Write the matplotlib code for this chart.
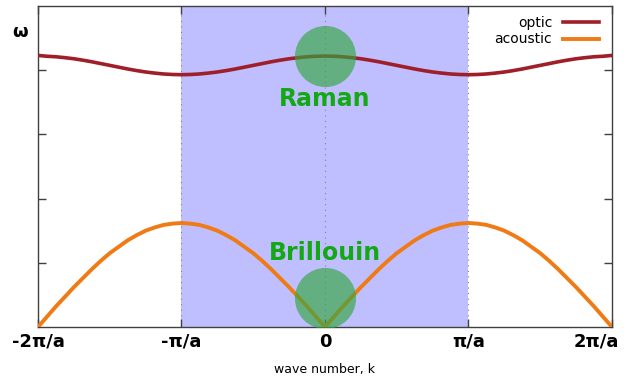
import numpy as np
import matplotlib
matplotlib.use("Agg")
from matplotlib import pyplot as plt
from matplotlib import transforms

# wave number in units of pi/a, step pi/(16a)
k = [i / 16 for i in range(-32, 33)]

# values for k = 0 .. 2pi/a (curves are symmetric)
acoustic_half = [0.0, 0.16, 0.32, 0.47, 0.62, 0.76, 0.90, 1.03, 1.15,
                 1.25, 1.35, 1.43, 1.50, 1.55, 1.59, 1.61, 1.62,
                 1.61, 1.59, 1.55, 1.50, 1.43, 1.35, 1.25, 1.15,
                 1.03, 0.90, 0.76, 0.62, 0.47, 0.32, 0.16, 0.0]
acoustic = acoustic_half[::-1][:-1] + acoustic_half

optic_half = [4.220, 4.217, 4.209, 4.195, 4.178, 4.156, 4.131, 4.103, 4.075,
              4.047, 4.019, 3.994, 3.972, 3.955, 3.941, 3.933, 3.930,
              3.933, 3.941, 3.955, 3.972, 3.994, 4.019, 4.047, 4.075,
              4.103, 4.131, 4.156, 4.178, 4.195, 4.209, 4.217, 4.230]
optic = optic_half[::-1][:-1] + optic_half

xticks = [-2, -1, 0, 1, 2]
xticklabels = ["-2π/a", "-π/a", "0", "π/a", "2π/a"]
yticks = [1, 2, 3, 4]

zone = (-1, 1)
raman_spot = (0, 4.22)
brillouin_spot = (0, 0.45)

fig = plt.figure(figsize=(6.26, 3.79), dpi=100)
ax = fig.add_axes([0.0607, 0.1372, 0.9169, 0.847])

ax.axvspan(zone[0], zone[1], color="#bfbfff", lw=0, zorder=0)
for xv in [-1, 0, 1]:
    ax.axvline(xv, color="#8080a0", lw=0.8, ls=(0, (1, 4)), zorder=1)

ax.plot(k, optic, color="#a01e2a", lw=2.6, label="optic", zorder=3)
ax.plot(k, acoustic, color="#f07a14", lw=2.8, label="acoustic", zorder=3)

for spot in [raman_spot, brillouin_spot]:
    ax.plot(spot[0], spot[1], "o", ms=44, color="#33a73f", alpha=0.65,
            mec="none", zorder=4)

ax.text(0, 3.55, "Raman", color="#14a814", fontsize=17, fontweight="bold",
        ha="center", va="center", zorder=5)
ax.text(0, 1.15, "Brillouin", color="#14a814", fontsize=17, fontweight="bold",
        ha="center", va="center", zorder=5)

ax.set_xlim(-2, 2)
ax.set_ylim(0, 5)
ax.set_xticks(xticks)
ax.set_xticklabels(xticklabels, fontsize=13, fontweight="bold")
ax.set_yticks(yticks)
ax.set_yticklabels([])
ax.tick_params(direction="in", length=6, width=1, color="#404040",
               top=True, right=True, pad=4)
for s in ax.spines.values():
    s.set_color("#404040")
    s.set_linewidth(1)

# last label pulled in so it fits the figure
last = ax.get_xticklabels()[-1]
last.set_transform(last.get_transform() +
                   transforms.ScaledTranslation(-0.16, 0, fig.dpi_scale_trans))

ax.set_xlabel("wave number, k", fontsize=9, labelpad=9)
fig.text(20 / 626, 1 - 32 / 379, "ω", fontsize=13, fontweight="bold",
         ha="center", va="center")

ax.legend(loc="upper right", frameon=False, markerfirst=False, fontsize=10,
          handlelength=2.6, labelspacing=0.2, borderaxespad=0.3,
          bbox_to_anchor=(0.995, 1.0))

fig.savefig("out.png", dpi=100)
